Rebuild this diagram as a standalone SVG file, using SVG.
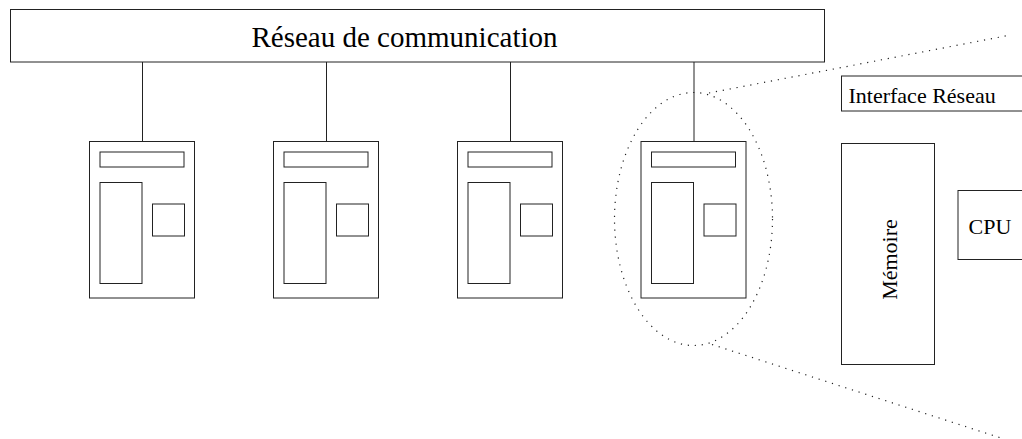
<svg xmlns="http://www.w3.org/2000/svg" width="1022" height="439" viewBox="0 0 1022 439">
  <style>
    .box { fill: #fff; stroke: #222; stroke-width: 1; }
    .wire { fill: none; stroke: #222; stroke-width: 1; }
    .dots { fill: none; stroke: #222; stroke-width: 1.2; stroke-dasharray: 1.2 5.8; }
    .label { font-family: "Liberation Serif", "Times New Roman", serif; fill: #000; }
  </style>
  <defs>
    <!-- one workstation: case, network card, memory, cpu -->
    <g id="station">
      <rect class="box" x="0" y="0" width="105" height="156.5"/>
      <rect class="box" x="10.5" y="10.5" width="84" height="15"/>
      <rect class="box" x="10.5" y="41" width="42" height="101"/>
      <rect class="box" x="63" y="62.5" width="32" height="32"/>
    </g>
  </defs>
  <rect width="1022" height="439" fill="#fff"/>

  <g id="reseau">
    <rect class="box" x="10.5" y="9.5" width="814" height="52.5"/>
    <text class="label" x="404.5" y="47" font-size="29" text-anchor="middle">Réseau de communication</text>
  </g>

  <g id="connectors">
    <line class="wire" x1="142.5" y1="62" x2="142.5" y2="141.5"/>
    <line class="wire" x1="326.5" y1="62" x2="326.5" y2="141.5"/>
    <line class="wire" x1="510.5" y1="62" x2="510.5" y2="141.5"/>
    <line class="wire" x1="694" y1="62" x2="694" y2="141.5"/>
  </g>

  <g id="station1"><use href="#station" x="89.5" y="141.5"/></g>
  <g id="station2"><use href="#station" x="273.5" y="141.5"/></g>
  <g id="station3"><use href="#station" x="457.5" y="141.5"/></g>
  <g id="station4"><use href="#station" x="641" y="141.5"/></g>

  <!-- zoom outline around the last station -->
  <g id="zoom">
    <ellipse class="dots" cx="693.5" cy="219" rx="79" ry="126.5"/>
    <line class="dots" x1="709" y1="93" x2="1008" y2="35.5"/>
    <line class="dots" x1="712" y1="344.5" x2="1004" y2="439"/>
  </g>

  <!-- enlarged view of the station -->
  <g id="interface">
    <rect class="box" x="841.5" y="76" width="200" height="35"/>
    <text class="label" x="848.5" y="102.5" font-size="22">Interface Réseau</text>
  </g>
  <g id="memoire">
    <rect class="box" x="841.5" y="143.5" width="93" height="221"/>
    <text class="label" transform="translate(897 259.5) rotate(-90)" font-size="22" text-anchor="middle">Mémoire</text>
  </g>
  <g id="cpu">
    <rect class="box" x="958" y="190.5" width="80" height="69"/>
    <text class="label" x="968.5" y="234" font-size="22">CPU</text>
  </g>
</svg>
